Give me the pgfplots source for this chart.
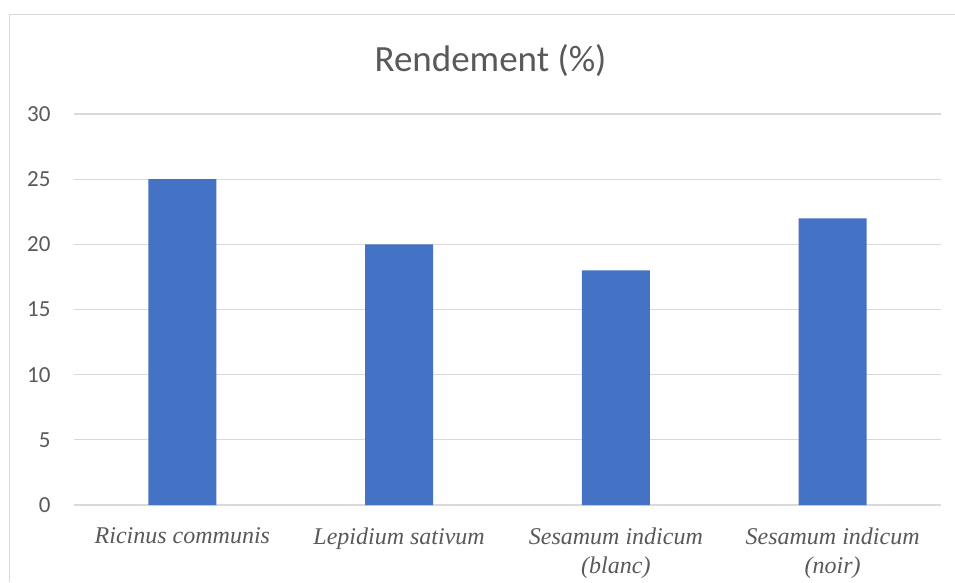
\documentclass[border=0pt]{standalone}
\usepackage{fontspec}
\setmainfont{Carlito}
\newfontfamily\tnr{Liberation Serif}
\usepackage{pgfplots}
\pgfplotsset{compat=1.18}
\definecolor{barblue}{HTML}{4472C4}
\definecolor{txtgray}{HTML}{595959}
\definecolor{gridgray}{HTML}{D9D9D9}
\begin{document}
\begin{tikzpicture}[x=1pt,y=1pt]
\path[use as bounding box] (0,0) rectangle (955,582);
\draw[gridgray, line width=1.5pt] (9.5,0) -- (9.5,567.5) -- (955,567.5);
\node[txtgray, font=\fontsize{37}{42}\selectfont] at (490.5,521) {Rendement (\%)};
\begin{axis}[
    at={(74pt,77pt)}, anchor=south west,
    scale only axis, width=867pt, height=391pt,
    xmin=-0.5, xmax=3.5, ymin=0, ymax=30,
    ytick={0,5,...,30}, xtick={0,1,2,3},
    xticklabels={Ricinus communis, Lepidium sativum, Sesamum indicum\\(blanc), Sesamum indicum\\(noir)},
    ymajorgrids, major grid style={gridgray, line width=1.3pt},
    axis line style={draw=none}, tick style={draw=none},
    /pgf/number format/assume math mode=true,
    yticklabel style={txtgray, font=\fontsize{23}{26}\selectfont, xshift=-20pt},
    xticklabel style={txtgray, font=\tnr\itshape\fontsize{24}{29}\selectfont, align=center, anchor=north, yshift=-19pt},
  ]
  \addplot[ybar, bar width=68pt, fill=barblue, draw=none] coordinates {(0,25) (1,20) (2,18) (3,22)};
\end{axis}
\end{tikzpicture}
\end{document}
